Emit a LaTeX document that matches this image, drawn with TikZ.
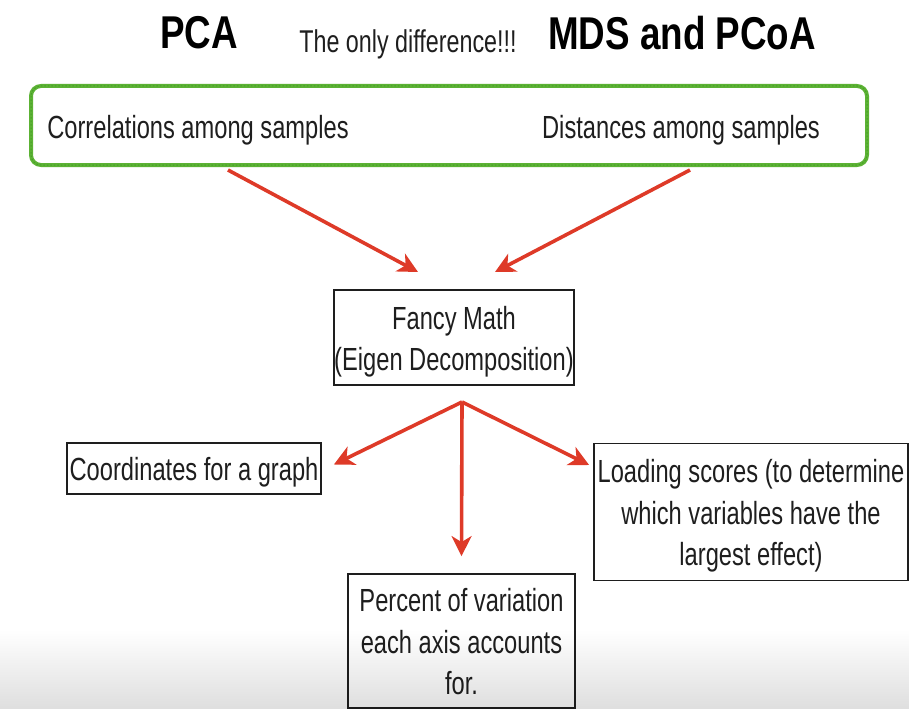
\documentclass[tikz,border=0pt]{standalone}
\usepackage{fontspec}
\setmainfont{Liberation Sans}[FakeStretch=0.80]
\newfontfamily\narrowsans{Liberation Sans}[FakeStretch=0.74]
\usetikzlibrary{arrows.meta,fadings,calc}
\definecolor{leafgreen}{RGB}{92,178,52}
\definecolor{leafdark}{RGB}{70,160,40}
\definecolor{arrowred}{RGB}{222,58,40}
\definecolor{inkgray}{RGB}{30,30,30}
% centred lines, set a little lower than the box's middle without changing its size
\newcommand{\boxlines}[1]{\raisebox{-4pt}[\height][\depth]{\begin{tabular}{@{}c@{}}#1\end{tabular}}}
\tikzset{
  box/.style={draw=inkgray, line width=1.8pt, rectangle, inner sep=0pt,
    font=\narrowsans\fontsize{32}{41.5}\selectfont, text=inkgray},
  redarrow/.style={draw=arrowred, line width=3.6pt,
    -{Stealth[length=20pt,width=20pt,inset=6pt]}},
  greenframe/.style={draw=leafgreen, line width=4pt, rounded corners=10pt},
  plain/.style={inner sep=0pt, text=inkgray, font=\narrowsans\fontsize{32}{36}\selectfont},
}
\begin{document}
\begin{tikzpicture}[x=1pt,y=-1pt]
\useasboundingbox (0,0) rectangle (911,709);

% headings
\node[plain, font=\fontsize{46}{50}\selectfont\bfseries, text=black] (pca) at (199,33) {PCA};
\node[plain, font=\narrowsans\fontsize{31.5}{34}\selectfont] (diff) at (408,44) {The only difference!!!};
\node[plain, font=\fontsize{46}{50}\selectfont\bfseries, text=black] (mds) at (682,33) {MDS and PCoA};

% green input frame, a solid stroke with a slightly darker dashed grain on top
\draw[greenframe] (31,86) rectangle (867,165);
\draw[draw=leafdark, line width=1pt, rounded corners=10pt, dash pattern=on 1.5pt off 2pt]
  (31,86) rectangle (867,165);
\node[plain] (corr) at (198,130) {Correlations among samples};
\node[plain] (dist) at (681,130) {Distances among samples};

% central box
\node[box, minimum width=240pt, minimum height=95pt] (fancy) at (454,337.5)
  {\boxlines{Fancy Math\\(Eigen Decomposition)}};

% output boxes
\node[box, minimum width=254pt, minimum height=51pt] (coord) at (194,468.5)
  {\boxlines{Coordinates for a graph}};
\node[box, minimum width=314pt, minimum height=137pt] (load) at (751,512)
  {\boxlines{Loading scores (to determine\\which variables have the\\largest effect)}};
\node[box, minimum width=227pt, minimum height=134pt] (pct) at (461.5,641)
  {\boxlines{Percent of variation\\each axis accounts\\for.}};

% arrow anchors
\coordinate (s1) at (228,170);
\coordinate (s2) at (690,170);
\coordinate (e1) at (418,272);
\coordinate (e2) at (495,272);
\coordinate (fork) at (462,402);
\coordinate (eL) at ($(coord.east)+(12,-4)$);
\coordinate (eD) at ($(pct.north)+(0,-17)$);
\coordinate (eR) at ($(load.west)+(-4,-47)$);

\draw[redarrow] (s1) -- (e1);
\draw[redarrow] (s2) -- (e2);
\draw[redarrow] (fork) -- (eL);
\draw[redarrow] (fork) -- (eD);
\draw[redarrow] (fork) -- (eR);

% soft grey band along the lower edge
\fill[black, fill opacity=0.13, path fading=north] (0,630) rectangle (911,709);
\end{tikzpicture}
\end{document}
